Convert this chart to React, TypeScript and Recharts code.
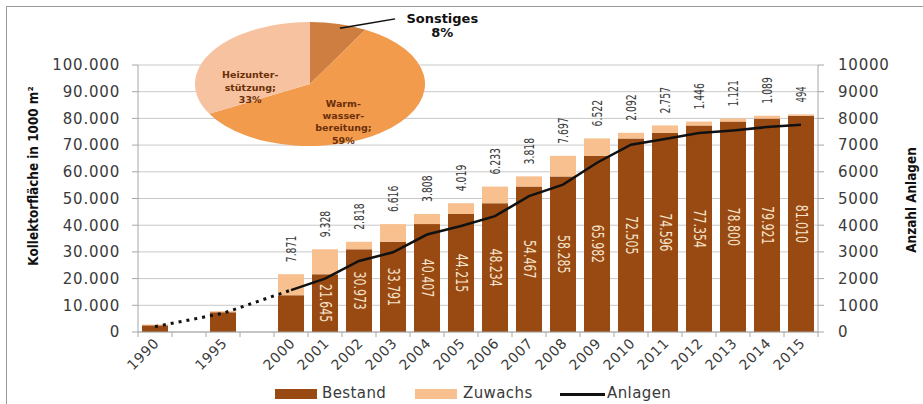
import React from 'react'
import {
  ComposedChart,
  Bar,
  Line,
  XAxis,
  YAxis,
  CartesianGrid,
  LabelList,
  PieChart,
  Pie,
  Cell,
} from 'recharts'

const years = ['1990', '', '1995', '', '2000', '2001', '2002', '2003', '2004', '2005', '2006', '2007', '2008', '2009', '2010', '2011', '2012', '2013', '2014', '2015']
const bestand = [2500, null, 7400, null, 13774, 21645, 30973, 33791, 40407, 44215, 48234, 54467, 58285, 65982, 72505, 74596, 77354, 78800, 79921, 81010]
const zuwachs = [300, null, 400, null, 7871, 9328, 2818, 6616, 3808, 4019, 6233, 3818, 7697, 6522, 2092, 2757, 1446, 1121, 1089, 494]
const anlagen = [200, null, 700, null, 1570, 2000, 2660, 2985, 3650, 3970, 4340, 5090, 5520, 6340, 7015, 7225, 7450, 7550, 7675, 7760]
const leftTicks = [0, 10000, 20000, 30000, 40000, 50000, 60000, 70000, 80000, 90000, 100000]
const rightTicks = [0, 1000, 2000, 3000, 4000, 5000, 6000, 7000, 8000, 9000, 10000]

const pieNames = ['Sonstiges', 'Warmwasserbereitung', 'Heizunterstützung']
const pieValues = [8, 59, 33]
const pieLabels = [['Sonstiges', '8%'], ['Warm-', 'wasser-', 'bereitung;', '59%'], ['Heizunter-', 'stützung;', '33%']]

const DARK = '#984a12'
const LIGHT = '#f8bf8f'
const PIE_COLORS = ['#cd7e40', '#f39b4d', '#f6c29f']
const AXIS = '#a6a6a6'
const TEXT = '#3a3a3a'
const SANS = '"DejaVu Sans", sans-serif'
const SLOT = 34

const i2000 = years.indexOf('2000')
const i2001 = years.indexOf('2001')

const data = years.map((year, i) => ({
  year,
  bestand: bestand[i],
  zuwachs: zuwachs[i],
  bestandLabel: i >= i2001 ? bestand[i] : null,
  zuwachsLabel: i >= i2000 ? zuwachs[i] : null,
  anlagenFrueh: i <= i2000 ? anlagen[i] : null,
  anlagen: i >= i2000 ? anlagen[i] : null,
}))

const pieData = pieNames.map((name, i) => ({ name, value: pieValues[i] }))

// 1000er-Punkte wie im Original
const fmt = (v: number) => String(v).replace(/\B(?=(\d{3})+(?!\d))/g, '.')

const YearTick = (props: any) => {
  const { x, y, payload } = props
  const isLast = payload.value === years[years.length - 1]
  const tx = x + 5
  const ty = y + 12
  return (
    <g>
      <line x1={x - SLOT / 2} x2={x - SLOT / 2} y1={y} y2={y + 5} stroke={AXIS} />
      {isLast && <line x1={x + SLOT / 2} x2={x + SLOT / 2} y1={y} y2={y + 5} stroke={AXIS} />}
      {payload.value && (
        <text
          x={tx}
          y={ty}
          transform={`rotate(-45 ${tx} ${ty})`}
          textAnchor="end"
          fill={TEXT}
          fontSize={14}
          fontFamily={SANS}
          letterSpacing={0.6}
        >
          {payload.value}
        </text>
      )}
    </g>
  )
}

// schmale Schrift über textLength nachgebildet
const BestandLabel = (props: any) => {
  const { x, y, width, height, value } = props
  if (value == null) return null
  const cx = x + width / 2
  const cy = y + height / 2
  const s = fmt(value)
  return (
    <text
      x={cx}
      y={cy}
      transform={`rotate(90 ${cx} ${cy})`}
      textAnchor="middle"
      dominantBaseline="central"
      fill="#f7e4cc"
      fontSize={15}
      fontFamily={SANS}
      textLength={s.length * 6.4}
      lengthAdjust="spacingAndGlyphs"
    >
      {s}
    </text>
  )
}

const ZuwachsLabel = (props: any) => {
  const { x, y, width, value } = props
  if (value == null) return null
  const cx = x + width / 2
  const cy = y - 12
  const s = fmt(value)
  return (
    <text
      x={cx}
      y={cy}
      transform={`rotate(-90 ${cx} ${cy})`}
      textAnchor="start"
      dominantBaseline="central"
      fill={TEXT}
      fontSize={13.5}
      fontFamily={SANS}
      textLength={s.length * 5.3}
      lengthAdjust="spacingAndGlyphs"
    >
      {s}
    </text>
  )
}

// Tortendiagramm wird horizontal gestreckt (Ellipse wie im Original)
const PIE_W = 165
const PIE_H = 145
const PIE_R = 62
const PIE_CX = 62
const PIE_CY = 76
const SX = 1.855

// Lage der Beschriftungen relativ zum Radius
const labelPos = [
  { dx: 1.15, dy: -0.95 },
  { dx: 0.29, dy: 0.61 },
  { dx: -0.52, dy: 0.05 },
]

const PieLabel = (props: any) => {
  const { cx, cy, outerRadius, index } = props
  const p = labelPos[index]
  const lx = cx + p.dx * outerRadius
  const ly = cy + p.dy * outerRadius
  const lines = pieLabels[index]
  const big = index === 0
  const lh = big ? 14 : 12.3
  const y0 = -((lines.length - 1) * lh) / 2
  return (
    <g>
      {big && (
        <line
          x1={cx + 0.26 * outerRadius}
          y1={cy - 0.9 * outerRadius}
          x2={cx + 0.74 * outerRadius}
          y2={cy - 1.05 * outerRadius}
          stroke="#111"
          strokeWidth={1.5}
        />
      )}
      <g transform={`translate(${lx} ${ly}) scale(${1 / SX} 1)`}>
        <text
          textAnchor="middle"
          fill={big ? '#111' : '#6b2f0a'}
          fontSize={big ? 13 : 9.5}
          fontWeight="bold"
          fontFamily={SANS}
        >
          {lines.map((l, i) => (
            <tspan key={i} x={0} y={y0 + i * lh} dominantBaseline="central">
              {l}
            </tspan>
          ))}
        </text>
      </g>
    </g>
  )
}

const legendText: React.CSSProperties = {
  position: 'absolute',
  top: 384,
  fontFamily: SANS,
  fontSize: 15,
  color: TEXT,
  letterSpacing: 0.4,
  lineHeight: '18px',
}

const axisTitle: React.CSSProperties = {
  position: 'absolute',
  whiteSpace: 'nowrap',
  fontFamily: SANS,
  fontWeight: 'bold',
  fontSize: 14,
  color: '#111',
}

export default function App() {
  return (
    <div style={{ position: 'absolute', left: 0, top: 0, width: 923, height: 404, overflow: 'hidden', background: '#fff' }}>
      <div
        style={{
          position: 'absolute',
          left: 6,
          top: 6,
          width: 940,
          height: 420,
          borderLeft: '1.5px solid #9a9a9a',
          borderTop: '1.5px solid #9a9a9a',
        }}
      />
      <div style={{ position: 'absolute', left: 0, top: 0 }}>
        <ComposedChart width={923} height={404} data={data} margin={{ top: 65, right: 0, bottom: 32, left: 0 }} barSize={26}>
          <CartesianGrid yAxisId="left" vertical={false} stroke="#c9c9c9" />
          <XAxis
            dataKey="year"
            interval={0}
            height={40}
            tickSize={0}
            tickMargin={0}
            tickLine={false}
            axisLine={{ stroke: AXIS }}
            tick={<YearTick />}
          />
          <YAxis
            yAxisId="left"
            domain={[0, 100000]}
            ticks={leftTicks}
            width={138}
            tickSize={6}
            tickMargin={12}
            tickLine={{ stroke: AXIS }}
            axisLine={{ stroke: AXIS }}
            tickFormatter={fmt}
            tick={{ fill: TEXT, fontSize: 15, fontFamily: SANS, letterSpacing: 0.8 }}
          />
          <YAxis
            yAxisId="right"
            orientation="right"
            domain={[0, 10000]}
            ticks={rightTicks}
            width={105}
            tickSize={6}
            tickMargin={14}
            tickLine={{ stroke: AXIS }}
            axisLine={{ stroke: AXIS }}
            tick={{ fill: TEXT, fontSize: 15, fontFamily: SANS, letterSpacing: 0.8 }}
          />
          <Bar yAxisId="left" dataKey="bestand" stackId="a" fill={DARK} isAnimationActive={false}>
            <LabelList dataKey="bestandLabel" content={<BestandLabel />} />
          </Bar>
          <Bar yAxisId="left" dataKey="zuwachs" stackId="a" fill={LIGHT} isAnimationActive={false}>
            <LabelList dataKey="zuwachsLabel" content={<ZuwachsLabel />} />
          </Bar>
          <Line
            yAxisId="right"
            dataKey="anlagenFrueh"
            stroke="#111"
            strokeWidth={3}
            strokeDasharray="3 5"
            dot={false}
            connectNulls
            isAnimationActive={false}
          />
          <Line
            yAxisId="right"
            dataKey="anlagen"
            stroke="#111"
            strokeWidth={2.5}
            dot={false}
            isAnimationActive={false}
          />
        </ComposedChart>
      </div>

      <div
        style={{
          position: 'absolute',
          left: 195,
          top: 8,
          width: PIE_W,
          height: PIE_H,
          transform: `scaleX(${SX})`,
          transformOrigin: '0 0',
        }}
      >
        <PieChart width={PIE_W} height={PIE_H} margin={{ top: 0, right: 0, bottom: 0, left: 0 }}>
          <Pie
            data={pieData}
            dataKey="value"
            nameKey="name"
            cx={PIE_CX}
            cy={PIE_CY}
            outerRadius={PIE_R}
            startAngle={90}
            endAngle={-270}
            stroke="none"
            label={PieLabel}
            labelLine={false}
            isAnimationActive={false}
          >
            {pieData.map((d, i) => (
              <Cell key={d.name} fill={PIE_COLORS[i]} />
            ))}
          </Pie>
        </PieChart>
      </div>

      <div style={{ ...axisTitle, left: 33, top: 176, transform: 'translate(-50%, -50%) rotate(-90deg) scaleX(0.86)' }}>
        Kollektorfläche in 1000 m²
      </div>
      <div style={{ ...axisTitle, left: 911, top: 200, transform: 'translate(-50%, -50%) rotate(-90deg) scaleX(0.86)' }}>
        Anzahl Anlagen
      </div>

      <div style={{ position: 'absolute', left: 275, top: 389, width: 42, height: 10, background: DARK }} />
      <div style={{ ...legendText, left: 322 }}>Bestand</div>
      <div style={{ position: 'absolute', left: 415, top: 389, width: 42, height: 10, background: LIGHT }} />
      <div style={{ ...legendText, left: 463 }}>Zuwachs</div>
      <div style={{ position: 'absolute', left: 560, top: 393, width: 45, height: 2.5, background: '#111' }} />
      <div style={{ ...legendText, left: 607 }}>Anlagen</div>
    </div>
  )
}
